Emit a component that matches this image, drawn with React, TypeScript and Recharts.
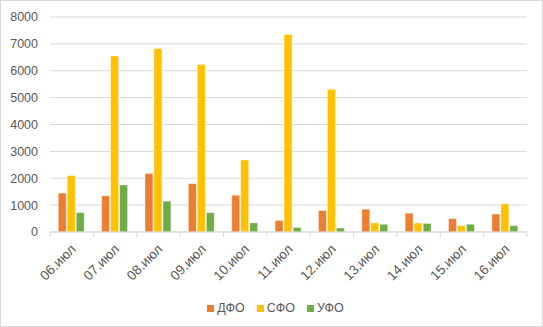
import { Bar, BarChart, CartesianGrid, Legend, XAxis, YAxis } from "recharts"

const days = [
  "06.июл", "07.июл", "08.июл", "09.июл", "10.июл", "11.июл",
  "12.июл", "13.июл", "14.июл", "15.июл", "16.июл",
]
const dfo = [1450, 1350, 2180, 1800, 1370, 430, 800, 850, 700, 500, 670]
const sfo = [2100, 6550, 6830, 6230, 2680, 7350, 5310, 340, 335, 240, 1050]
const ufo = [720, 1750, 1150, 720, 340, 170, 150, 290, 320, 290, 240]
const yTicks = [0, 1000, 2000, 3000, 4000, 5000, 6000, 7000, 8000]

const series = [
  { key: "dfo", name: "ДФО", color: "#ED7D31" },
  { key: "sfo", name: "СФО", color: "#FFC000" },
  { key: "ufo", name: "УФО", color: "#70AD47" },
]

const data = days.map((day, i) => ({ day, dfo: dfo[i], sfo: sfo[i], ufo: ufo[i] }))

const W = 543
const H = 327
const MARGIN = { top: 17, right: 16, left: 0, bottom: 0 }
const Y_W = 50
const PLOT_W = W - MARGIN.left - MARGIN.right - Y_W
const BAND = PLOT_W / days.length
const FONT = "'Liberation Sans', Arial, sans-serif"
const TEXT = "#595959"
const GRID = "#D9D9D9"

// Excel-style category axis: tick marks sit between categories, labels at -45°
function DayTick({ x, y, payload, index }: any) {
  const last = index === days.length - 1
  const tx = x + 5
  const ty = y + 18
  return (
    <g>
      <line x1={x - BAND / 2} x2={x - BAND / 2} y1={y} y2={y + 5} stroke={GRID} />
      {last && <line x1={x + BAND / 2} x2={x + BAND / 2} y1={y} y2={y + 5} stroke={GRID} />}
      <text
        x={tx}
        y={ty}
        textAnchor="end"
        fill={TEXT}
        fontSize={13.5}
        fontFamily={FONT}
        transform={`rotate(-45, ${tx}, ${ty})`}
      >
        {payload.value}
      </text>
    </g>
  )
}

function LegendRow() {
  return (
    <div
      style={{
        display: "flex",
        justifyContent: "center",
        gap: 12,
        paddingLeft: 8,
        fontFamily: FONT,
        fontSize: 12.5,
        color: TEXT,
      }}
    >
      {series.map((s) => (
        <div key={s.key} style={{ display: "flex", alignItems: "center", gap: 3 }}>
          <span style={{ width: 7, height: 7, background: s.color, display: "inline-block" }} />
          <span>{s.name}</span>
        </div>
      ))}
    </div>
  )
}

export default function App() {
  return (
    <div
      style={{
        position: "fixed",
        left: 0,
        top: 0,
        width: W,
        height: H,
        boxSizing: "border-box",
        border: `1px solid ${GRID}`,
        background: "#fff",
      }}
    >
      <div style={{ position: "absolute", left: -1, top: -1 }}>
        <BarChart
          width={W}
          height={H}
          data={data}
          margin={MARGIN}
          barGap={1}
          barCategoryGap="19%"
        >
          <CartesianGrid vertical={false} stroke={GRID} />
          <XAxis
            dataKey="day"
            height={H - MARGIN.top - 215}
            interval={0}
            tickLine={false}
            tickSize={0}
            tickMargin={0}
            axisLine={{ stroke: GRID }}
            tick={<DayTick />}
          />
          <YAxis
            width={Y_W}
            domain={[0, 8000]}
            ticks={yTicks}
            interval={0}
            tickLine={false}
            axisLine={false}
            tickSize={0}
            tickMargin={12}
            tick={{ fill: TEXT, fontSize: 12.5, fontFamily: FONT }}
          />
          <Legend
            layout="horizontal"
            align="center"
            verticalAlign="middle"
            wrapperStyle={{ top: 301, left: 0, width: W }}
            content={<LegendRow />}
          />
          {series.map((s) => (
            <Bar
              key={s.key}
              dataKey={s.key}
              name={s.name}
              fill={s.color}
              stroke="#ffffff"
              strokeOpacity={0.45}
              strokeWidth={1}
              isAnimationActive={false}
            />
          ))}
        </BarChart>
      </div>
    </div>
  )
}
